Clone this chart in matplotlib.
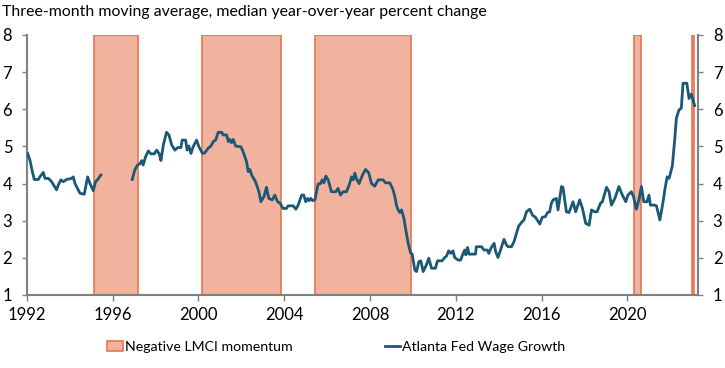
import numpy as np
import matplotlib
matplotlib.use("Agg")
import matplotlib.pyplot as plt
from matplotlib.patches import Patch
from matplotlib.lines import Line2D

# periodos de momentum negativo del LMCI (inicio, fin)
inicioNegativo = [1995.14, 2000.17, 2005.44, 2020.31, 2023.02]
finNegativo = [1997.16, 2003.87, 2009.89, 2020.62, 2023.13]

# crecimiento salarial (Atlanta Fed)
fechas1 = [1992.03, 1992.14, 1992.25, 1992.34, 1992.53, 1992.60, 1992.76, 1992.84,
           1993.00, 1993.15, 1993.38, 1993.46, 1993.58, 1993.70, 1993.85, 1994.08,
           1994.16, 1994.24, 1994.47, 1994.67, 1994.83, 1994.94, 1995.09, 1995.20,
           1995.30, 1995.45]
valores1 = [4.81, 4.63, 4.32, 4.11, 4.11, 4.18, 4.30, 4.14,
            4.14, 4.05, 3.83, 3.96, 4.10, 4.05, 4.11, 4.14,
            4.18, 4.00, 3.74, 3.71, 4.18, 4.00, 3.81, 4.05,
            4.11, 4.23]

fechas2 = [1996.91, 1997.03, 1997.16, 1997.27, 1997.35, 1997.42, 1997.53, 1997.66,
           1997.78, 1997.94, 1998.05, 1998.17, 1998.25, 1998.36, 1998.51, 1998.62,
           1998.75, 1998.90, 1999.03, 1999.18, 1999.24, 1999.40, 1999.47, 1999.55,
           1999.65, 1999.75, 1999.91, 2000.02, 2000.19, 2000.30, 2000.45, 2000.58,
           2000.69, 2000.80, 2000.92, 2001.08, 2001.15, 2001.31, 2001.39, 2001.46,
           2001.54, 2001.62, 2001.73, 2001.98, 2002.08, 2002.24, 2002.32, 2002.40,
           2002.48, 2002.66, 2002.82, 2002.91, 2003.06, 2003.17, 2003.28, 2003.44,
           2003.56, 2003.69, 2003.79, 2003.95, 2004.10, 2004.18, 2004.42, 2004.54,
           2004.65, 2004.81, 2004.91, 2005.00, 2005.09, 2005.16, 2005.24, 2005.32,
           2005.43, 2005.58, 2005.69, 2005.77, 2005.85, 2005.94, 2006.05, 2006.20,
           2006.41, 2006.51, 2006.62, 2006.75, 2006.90, 2007.03, 2007.14, 2007.22,
           2007.29, 2007.37, 2007.49, 2007.65, 2007.79, 2007.94, 2008.07, 2008.22,
           2008.38, 2008.61, 2008.72, 2008.92, 2009.05, 2009.16, 2009.24, 2009.31,
           2009.39, 2009.47, 2009.58, 2009.67, 2009.78, 2009.89, 2009.97, 2010.09,
           2010.17, 2010.28, 2010.37, 2010.48, 2010.63, 2010.74, 2010.87, 2011.05,
           2011.15, 2011.36, 2011.49, 2011.57, 2011.67, 2011.77, 2011.87, 2011.95,
           2012.11, 2012.23, 2012.34, 2012.42, 2012.47, 2012.55, 2012.62, 2012.92,
           2012.96, 2013.20, 2013.32, 2013.48, 2013.54, 2013.66, 2013.79, 2013.86,
           2013.97, 2014.10, 2014.25, 2014.36, 2014.44, 2014.60, 2014.72, 2014.83,
           2014.94, 2015.06, 2015.18, 2015.30, 2015.45, 2015.58, 2015.72, 2015.92,
           2016.03, 2016.18, 2016.28, 2016.38, 2016.46, 2016.54, 2016.69, 2016.77,
           2016.93, 2017.00, 2017.16, 2017.28, 2017.47, 2017.59, 2017.78, 2017.91,
           2018.06, 2018.22, 2018.33, 2018.48, 2018.59, 2018.75, 2018.84, 2019.03,
           2019.15, 2019.26, 2019.42, 2019.61, 2019.77, 2019.93, 2020.03, 2020.19,
           2020.29, 2020.42, 2020.54, 2020.66, 2020.77, 2020.92, 2021.01, 2021.08,
           2021.28, 2021.36, 2021.52, 2021.67, 2021.75, 2021.86, 2021.95, 2022.10,
           2022.21, 2022.29, 2022.41, 2022.52, 2022.60, 2022.78, 2022.88, 2022.99,
           2023.14]
valores2 = [4.11, 4.37, 4.50, 4.53, 4.62, 4.50, 4.72, 4.88,
            4.80, 4.80, 4.90, 4.80, 4.62, 5.04, 5.38, 5.31,
            5.04, 4.90, 4.97, 4.97, 5.17, 5.17, 4.90, 5.01,
            4.81, 4.99, 5.17, 4.99, 4.81, 4.83, 4.95, 5.01,
            5.13, 5.17, 5.38, 5.38, 5.31, 5.31, 5.13, 5.19,
            5.10, 5.19, 5.01, 4.99, 4.86, 4.59, 4.32, 4.38,
            4.23, 4.05, 3.78, 3.51, 3.66, 3.90, 3.60, 3.56,
            3.69, 3.51, 3.48, 3.33, 3.33, 3.40, 3.40, 3.31,
            3.42, 3.69, 3.69, 3.51, 3.60, 3.54, 3.60, 3.54,
            3.56, 3.99, 4.00, 4.10, 4.02, 4.20, 4.10, 3.78,
            3.78, 3.87, 3.69, 3.78, 3.78, 3.96, 4.18, 4.10,
            4.28, 4.13, 4.00, 4.23, 4.38, 4.29, 4.00, 3.93,
            4.10, 4.10, 4.02, 4.02, 3.87, 3.65, 3.40, 3.29,
            3.22, 3.29, 3.07, 2.75, 2.39, 2.14, 2.10, 1.67,
            1.63, 1.90, 1.92, 1.63, 1.81, 1.99, 1.72, 1.72,
            1.92, 1.92, 2.01, 2.05, 2.19, 2.12, 2.19, 2.01,
            1.94, 1.94, 2.12, 2.21, 2.08, 2.28, 2.10, 2.10,
            2.30, 2.30, 2.21, 2.21, 2.12, 2.28, 2.39, 2.17,
            2.01, 2.23, 2.50, 2.35, 2.30, 2.30, 2.44, 2.66,
            2.86, 2.95, 3.02, 3.24, 3.31, 3.15, 3.09, 2.91,
            3.09, 3.11, 3.22, 3.24, 3.47, 3.56, 3.60, 3.29,
            3.92, 3.90, 3.24, 3.22, 3.51, 3.24, 3.56, 3.33,
            2.93, 2.88, 3.29, 3.24, 3.24, 3.47, 3.51, 3.90,
            3.78, 3.42, 3.60, 3.92, 3.69, 3.51, 3.69, 3.78,
            3.65, 3.31, 3.56, 3.92, 3.51, 3.51, 3.69, 3.42,
            3.42, 3.40, 3.02, 3.51, 3.83, 4.18, 4.14, 4.47,
            5.17, 5.76, 5.98, 6.03, 6.70, 6.70, 6.29, 6.41,
            6.10]

ticksAnios = [1992, 1996, 2000, 2004, 2008, 2012, 2016, 2020]
ticksY = [1, 2, 3, 4, 5, 6, 7, 8]

colorRelleno = "#F1B29E"
colorBorde = "#E8744F"
colorLinea = "#1B5877"
colorEje = "#808080"


def main():
    plt.rcParams["font.family"] = ["Lato", "DejaVu Sans"]
    fig = plt.figure(figsize=(7.25, 3.68), dpi=100)
    ax = fig.add_axes([0.0372, 0.1984, 0.9256, 0.7065])

    for ini, fin in zip(inicioNegativo, finNegativo):
        ax.axvspan(ini, fin, facecolor=colorRelleno, edgecolor=colorBorde, linewidth=1.2, zorder=1)

    # dos tramos, con hueco entre 1995 y 1996
    ax.plot(fechas1, valores1, color=colorLinea, linewidth=2.0, zorder=3)
    ax.plot(fechas2, valores2, color=colorLinea, linewidth=2.0, zorder=3)

    ax.set_xlim(1992, 2023.3)
    ax.set_ylim(1, 8)
    ax.set_xticks(ticksAnios)
    ax.set_xticklabels([str(a) for a in ticksAnios])
    ax.set_yticks(ticksY)

    ax.tick_params(axis="x", length=4, width=1, color=colorEje, labelsize=12, pad=5)
    ax.tick_params(axis="y", length=3.6, width=1, color=colorEje, labelsize=12, pad=7,
                   left=True, right=True, labelleft=True, labelright=True)
    for lado in ["left", "right", "bottom"]:
        ax.spines[lado].set_color(colorEje)
        ax.spines[lado].set_linewidth(1.5)
    ax.spines["top"].set_visible(False)
    ax.set_zorder(2)

    fig.text(0.003, 0.967, "Three-month moving average, median year-over-year percent change",
             fontsize=11.4, va="center", ha="left")

    manejadores = [Patch(facecolor=colorRelleno, edgecolor=colorBorde, linewidth=1.2),
                   Line2D([0], [0], color=colorLinea, linewidth=2.0)]
    etiquetas = ["Negative LMCI momentum", "Atlanta Fed Wage Growth"]
    fig.legend(manejadores, etiquetas, loc="center left", bbox_to_anchor=(0.148, 0.057), ncol=2,
               frameon=False, fontsize=10.2, handlelength=1.1, handletextpad=0.15,
               columnspacing=6.5, borderpad=0, borderaxespad=0)

    fig.savefig("out.png", dpi=100)


if __name__ == "__main__":
    main()
